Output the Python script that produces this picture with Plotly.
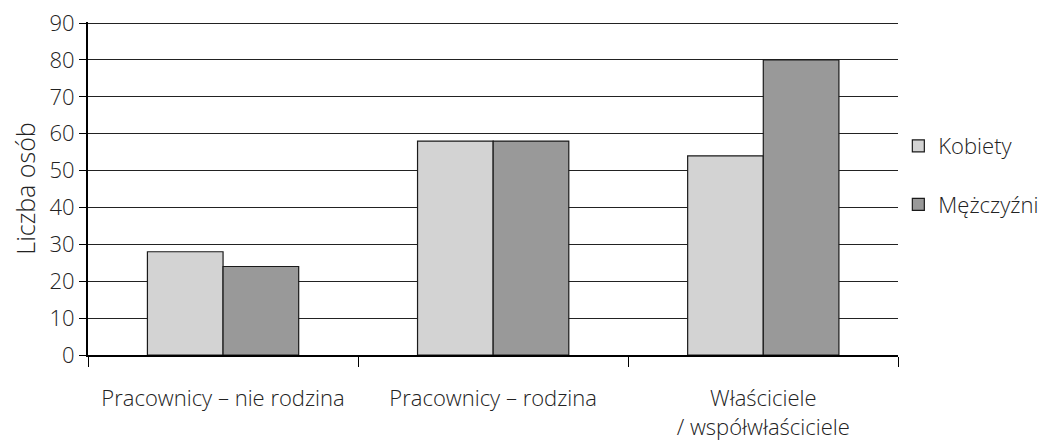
import plotly.graph_objects as go

categories = ["Pracownicy – nie rodzina", "Pracownicy – rodzina", "Właściciele<br>/ współwłaściciele"]
kobiety = [28, 58, 54]
mezczyzni = [24, 58, 80]
y_ticks = [0, 10, 20, 30, 40, 50, 60, 70, 80, 90]

FONT = "Open Sans"
TXT = "#222222"
FS = 22

fig = go.Figure()
fig.add_trace(go.Bar(
    x=categories, y=kobiety, name="Kobiety",
    marker=dict(color="#d3d3d3", line=dict(color="#1a1a1a", width=1.2)),
    legendgroup="k",
))
fig.add_trace(go.Bar(
    x=categories, y=mezczyzni, name="Mężczyźni",
    marker=dict(color="#999999", line=dict(color="#1a1a1a", width=1.2)),
    legendgroup="m",
))

fig.update_layout(
    width=1045, height=432,
    margin=dict(l=80, r=153, t=14, b=85),
    paper_bgcolor="white", plot_bgcolor="white",
    barmode="group", bargap=0.44, bargroupgap=0,
    font=dict(family=FONT, size=FS, color=TXT, weight=300),
    showlegend=True,
    legend=dict(
        xref="container", yref="container",
        x=0.852, xanchor="left", y=0.729, yanchor="top",
        tracegroupgap=27, traceorder="grouped",
        font=dict(family=FONT, size=FS, color=TXT, weight=300),
    ),
    xaxis=dict(
        type="category", automargin=False,
        showline=True, linecolor="black", linewidth=2,
        ticks="outside", tickson="boundaries", ticklen=10, tickcolor="black", tickwidth=1,
        ticklabelstandoff=23,
        showgrid=False, zeroline=False,
        tickfont=dict(family=FONT, size=FS, color=TXT, weight=300),
    ),
    yaxis=dict(
        range=[0, 90.3], tickvals=y_ticks, automargin=False,
        ticklabeloverflow="allow",
        showline=True, linecolor="black", linewidth=2,
        ticks="outside", ticklen=7, tickcolor="black", tickwidth=1,
        showgrid=True, gridcolor="#222222", gridwidth=1,
        zeroline=False,
        title=dict(text="Liczba osób", standoff=14,
                   font=dict(family=FONT, size=25, color=TXT, weight=300)),
        tickfont=dict(family=FONT, size=FS, color=TXT, weight=300),
    ),
)

fig.write_html("out.html")
